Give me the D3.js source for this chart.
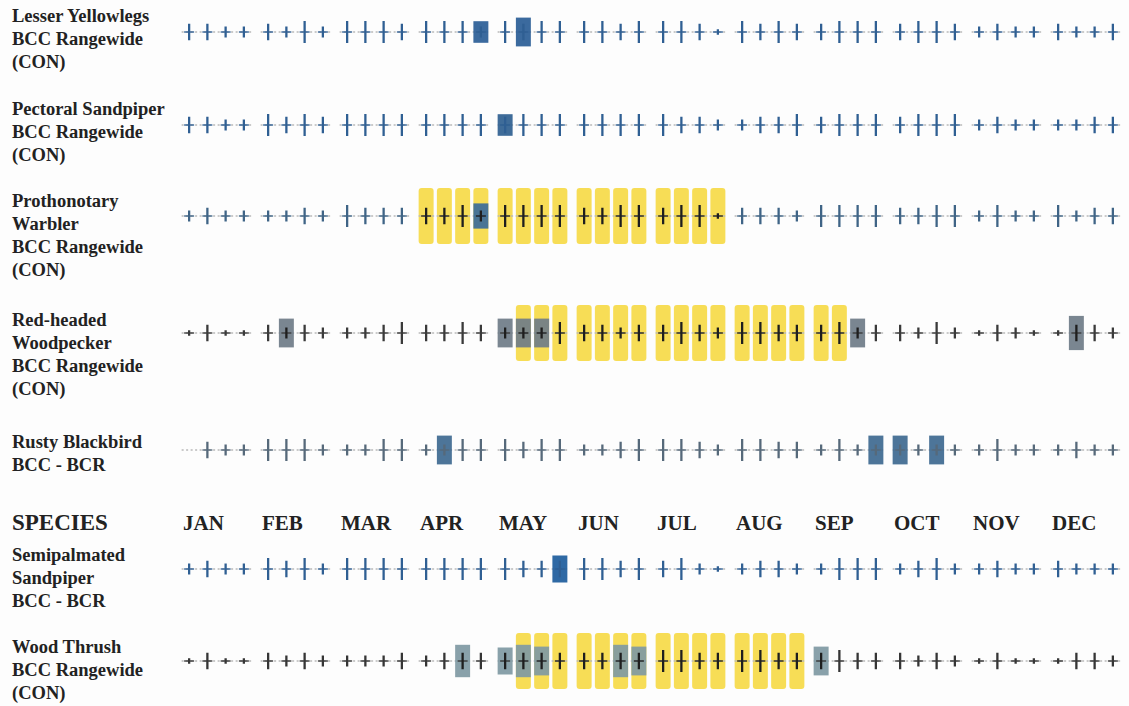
<!DOCTYPE html>
<html><head><meta charset="utf-8">
<script src="https://cdn.jsdelivr.net/npm/d3@7"></script>
<style>
html,body{margin:0;padding:0;background:#fdfdfd;}
svg{display:block;}
.lbl{font-family:"Liberation Serif",serif;font-weight:bold;font-size:18.5px;fill:#222;}
.hdr{font-family:"Liberation Serif",serif;font-size:20px;fill:#222;}
</style></head>
<body>
<script>
// ---------- DATA ----------
const months = ["JAN","FEB","MAR","APR","MAY","JUN","JUL","AUG","SEP","OCT","NOV","DEC"];
const weeks = [0,1,2,3];
const headerLabel = "SPECIES";

const speciesNames = [
  ["Lesser Yellowlegs","BCC Rangewide","(CON)"],
  ["Pectoral Sandpiper","BCC Rangewide","(CON)"],
  ["Prothonotary","Warbler","BCC Rangewide","(CON)"],
  ["Red-headed","Woodpecker","BCC Rangewide","(CON)"],
  ["Rusty Blackbird","BCC - BCR"],
  ["Semipalmated","Sandpiper","BCC - BCR"],
  ["Wood Thrush","BCC Rangewide","(CON)"]
];

// survey effort per week (0 none .. 4 high), 48 weeks
const effortLesserYellowlegs = [3,3,2,2, 3,2,4,2, 4,4,4,3, 4,4,4,2, 4,3,4,4, 4,4,3,4, 4,4,3,1, 4,3,4,3, 3,4,4,4, 3,4,4,3, 2,3,2,2, 3,2,2,3];
const effortPectoralSandpiper = [3,3,2,2, 4,3,4,3, 4,4,4,4, 4,4,4,4, 3,4,4,4, 4,4,4,4, 4,3,3,2, 2,3,3,4, 3,4,4,4, 3,4,4,4, 2,3,2,2, 2,2,3,3];
const effortProthonotaryWarbler = [2,3,2,2, 2,2,3,2, 4,3,3,3, 3,3,4,2, 4,4,4,4, 3,3,4,4, 3,4,4,1, 3,3,3,2, 4,4,4,4, 3,3,4,4, 2,4,2,2, 4,2,3,3];
const effortRedheadedWoodpecker = [1,3,1,1, 3,2,3,2, 2,2,3,4, 3,3,4,3, 2,2,2,4, 3,3,2,3, 3,4,3,2, 4,4,3,3, 3,4,2,3, 3,2,4,2, 1,3,2,1, 1,3,3,2];
const effortRustyBlackbird = [0,3,2,2, 4,4,4,2, 2,2,4,4, 2,2,4,4, 4,3,4,4, 2,2,3,4, 4,4,3,2, 4,4,3,3, 2,4,2,2, 2,2,2,2, 2,4,2,2, 2,3,2,2];
const effortSemipalmatedSandpiper = [2,3,2,2, 4,3,4,2, 4,4,4,4, 4,4,4,4, 4,3,3,3, 4,4,3,4, 3,4,2,1, 2,3,3,2, 2,4,4,4, 2,3,4,2, 2,3,2,2, 3,2,2,2];
const effortWoodThrush = [1,3,1,1, 3,2,3,2, 2,2,2,3, 2,3,3,3, 3,3,3,3, 3,3,3,3, 4,4,3,3, 4,4,3,3, 3,4,3,3, 3,2,3,2, 1,3,1,1, 1,3,3,2];

// probability of presence per week (0..1)
const probLesserYellowlegs = [0,0,0,0, 0,0,0,0, 0,0,0,0, 0,0,0,0.6, 0,0.8,0,0, 0,0,0,0, 0,0,0,0, 0,0,0,0, 0,0,0,0, 0,0,0,0, 0,0,0,0, 0,0,0,0];
const probPectoralSandpiper = [0,0,0,0, 0,0,0,0, 0,0,0,0, 0,0,0,0, 0.6,0,0,0, 0,0,0,0, 0,0,0,0, 0,0,0,0, 0,0,0,0, 0,0,0,0, 0,0,0,0, 0,0,0,0];
const probProthonotaryWarbler = [0,0,0,0, 0,0,0,0, 0,0,0,0, 0,0,0,0.7, 0,0,0,0, 0,0,0,0, 0,0,0,0, 0,0,0,0, 0,0,0,0, 0,0,0,0, 0,0,0,0, 0,0,0,0];
const probRedheadedWoodpecker = [0,0,0,0, 0,0.8,0,0, 0,0,0,0, 0,0,0,0, 0.8,0.8,0.8,0, 0,0,0,0, 0,0,0,0, 0,0,0,0, 0,0,0.8,0, 0,0,0,0, 0,0,0,0, 0,0.95,0,0];
const probRustyBlackbird = [0,0,0,0, 0,0,0,0, 0,0,0,0, 0,0.8,0,0, 0,0,0,0, 0,0,0,0, 0,0,0,0, 0,0,0,0, 0,0,0,0.8, 0.8,0,0.8,0, 0,0,0,0, 0,0,0,0];
const probSemipalmatedSandpiper = [0,0,0,0, 0,0,0,0, 0,0,0,0, 0,0,0,0, 0,0,0,0.75, 0,0,0,0, 0,0,0,0, 0,0,0,0, 0,0,0,0, 0,0,0,0, 0,0,0,0, 0,0,0,0];
const probWoodThrush = [0,0,0,0, 0,0,0,0, 0,0,0,0, 0,0,0.9,0, 0.75,0.9,0.8,0, 0,0,0.9,0.8, 0,0,0,0, 0,0,0,0, 0.8,0,0,0, 0,0,0,0, 0,0,0,0, 0,0,0,0];

// breeding season weeks (1 = breeding)
const breedLesserYellowlegs = new Array(48).fill(0);
const breedPectoralSandpiper = new Array(48).fill(0);
const breedProthonotaryWarbler = [0,0,0,0, 0,0,0,0, 0,0,0,0, 1,1,1,1, 1,1,1,1, 1,1,1,1, 1,1,1,1, 0,0,0,0, 0,0,0,0, 0,0,0,0, 0,0,0,0, 0,0,0,0];
const breedRedheadedWoodpecker = [0,0,0,0, 0,0,0,0, 0,0,0,0, 0,0,0,0, 0,1,1,1, 1,1,1,1, 1,1,1,1, 1,1,1,1, 1,1,0,0, 0,0,0,0, 0,0,0,0, 0,0,0,0];
const breedRustyBlackbird = new Array(48).fill(0);
const breedSemipalmatedSandpiper = new Array(48).fill(0);
const breedWoodThrush = [0,0,0,0, 0,0,0,0, 0,0,0,0, 0,0,0,0, 0,1,1,1, 1,1,1,1, 1,1,1,1, 1,1,1,1, 0,0,0,0, 0,0,0,0, 0,0,0,0, 0,0,0,0];

const efforts = [effortLesserYellowlegs,effortPectoralSandpiper,effortProthonotaryWarbler,effortRedheadedWoodpecker,effortRustyBlackbird,effortSemipalmatedSandpiper,effortWoodThrush];
const probs = [probLesserYellowlegs,probPectoralSandpiper,probProthonotaryWarbler,probRedheadedWoodpecker,probRustyBlackbird,probSemipalmatedSandpiper,probWoodThrush];
const breeds = [breedLesserYellowlegs,breedPectoralSandpiper,breedProthonotaryWarbler,breedRedheadedWoodpecker,breedRustyBlackbird,breedSemipalmatedSandpiper,breedWoodThrush];

// ---------- LAYOUT / STYLE ----------
const W = 1129, H = 706;
const rowCenters = [32,125,216,333,450,569,661];
const labelBaselines = [22,115,207,326,448,561,653];
const lineH = 23;
const headerY = 530;
const tickColors = ["#2f5f93","#2f5f93","#3f6486","#3a3a3a","#56697a","#2f5f93","#353535"];
const probColors = ["#2a5d96","#2f5f90","#3a6a9a","#6f7c88","#3e6990","#1d5c9c","#7f99a3"];
const darkTickRows = [false,false,true,true,true,true,true];
const breedTick = "#1e1e1e";
const yellow = "#f6d944";

const svg = d3.select("body").append("svg").attr("width",W).attr("height",H);

const xMonth = d3.scaleBand().domain(months).range([180,1128]);
const xWeek = d3.scaleBand().domain(weeks).range([0,73]).paddingInner(0.18).paddingOuter(0.09);
const bw = xWeek.bandwidth();
const tickH = d3.scaleLinear().domain([0,4]).range([0,22]);
const probH = d3.scaleLinear().domain([0,1]).range([0,36]);

const cellX = i => xMonth(months[Math.floor(i/4)]) + xWeek(i%4);

// species labels
speciesNames.forEach((lines,s)=>{
  const t = svg.append("text").attr("class","lbl");
  lines.forEach((ln,k)=>{
    t.append("tspan").attr("x",12).attr("y",labelBaselines[s]+k*lineH).text(ln);
  });
});

// header
svg.append("text").attr("class","hdr").attr("x",12).attr("y",headerY)
  .style("font-weight","bold").style("font-size","23px").text(headerLabel);
svg.selectAll("text.mon").data(months).join("text").attr("class","hdr mon")
  .attr("x",d=>xMonth(d)+3).attr("y",headerY).style("font-weight","bold").style("font-size","21px")
  .attr("fill","#222").text(d=>d);

// rows
rowCenters.forEach((cy,s)=>{
  const g = svg.append("g");
  const cells = d3.range(48).map(i=>({i, e:efforts[s][i], p:probs[s][i], b:breeds[s][i]}));
  // breeding yellow
  g.selectAll("rect.br").data(cells.filter(d=>d.b)).join("rect")
    .attr("x",d=>cellX(d.i)).attr("y",cy-28).attr("width",bw).attr("height",56)
    .attr("rx",3).attr("fill",yellow).attr("opacity",0.9);
  // dotted baseline per month
  g.selectAll("line.base").data(months).join("line")
    .attr("x1",d=>xMonth(d)+xWeek(0)).attr("x2",d=>xMonth(d)+xWeek(3)+bw)
    .attr("y1",cy).attr("y2",cy).attr("stroke","#b9b9b9").attr("stroke-width",1.3)
    .attr("stroke-dasharray","2,2.5");
  // probability bars
  g.selectAll("rect.pb").data(cells.filter(d=>d.p>0)).join("rect")
    .attr("x",d=>cellX(d.i)).attr("y",d=>cy-probH(d.p)/2).attr("width",bw).attr("height",d=>probH(d.p))
    .attr("fill",probColors[s]).attr("opacity",0.92);
  // crossbars
  g.selectAll("line.cb").data(cells.filter(d=>d.e>0)).join("line")
    .attr("x1",d=>cellX(d.i)+bw/2-5).attr("x2",d=>cellX(d.i)+bw/2+5)
    .attr("y1",cy).attr("y2",cy)
    .attr("stroke",d=>d.b?breedTick:tickColors[s]).attr("stroke-width",1.6).attr("opacity",0.85);
  // effort ticks
  g.selectAll("line.tk").data(cells.filter(d=>d.e>0)).join("line")
    .attr("x1",d=>cellX(d.i)+bw/2).attr("x2",d=>cellX(d.i)+bw/2)
    .attr("y1",d=>cy-tickH(d.e)/2).attr("y2",d=>cy+tickH(d.e)/2)
    .attr("stroke",d=>(d.b||d.p>0)&&darkTickRows[s]&&s!==4&&s!==5?breedTick:tickColors[s])
    .attr("stroke-width",2.3);
});
</script>
</body></html>
